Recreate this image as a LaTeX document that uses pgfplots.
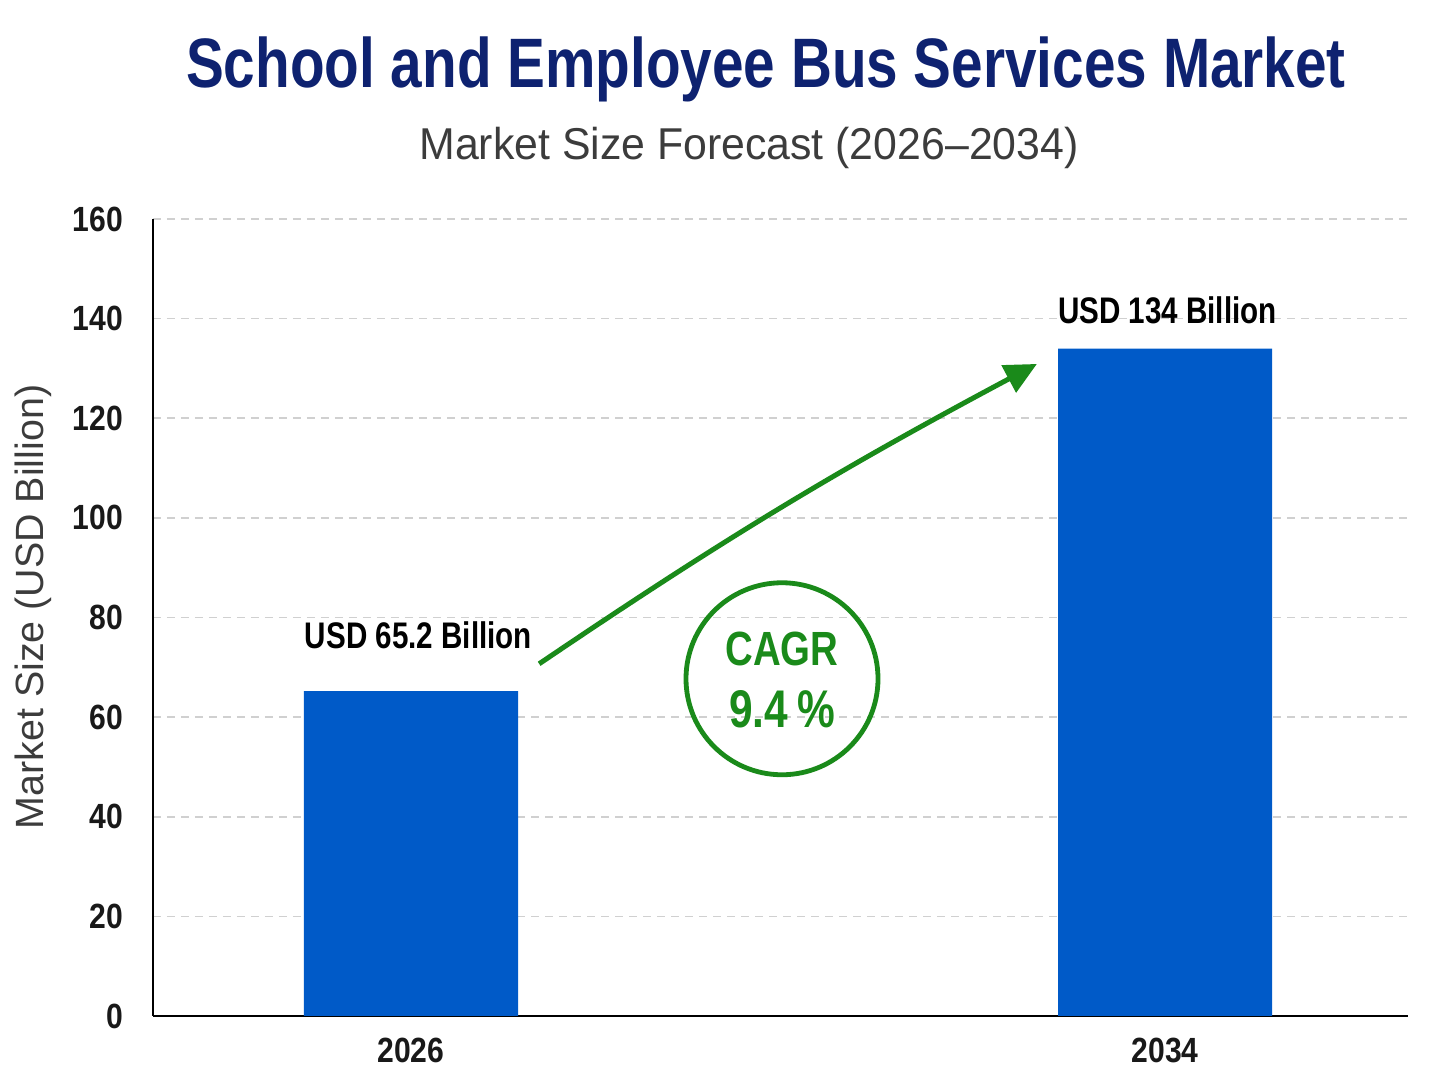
\documentclass[border=0pt]{standalone}
\usepackage{pgfplots}
\pgfplotsset{compat=1.18}
\usetikzlibrary{arrows.meta}
\usepackage{fontspec}
\setmainfont{Liberation Sans}
\newfontfamily\titlefont[FakeStretch=0.81]{Liberation Sans}
\newfontfamily\condfont[FakeStretch=0.80]{Liberation Sans}
\newfontfamily\tickfont[FakeStretch=0.86]{Liberation Sans}
\newfontfamily\subfont[FakeStretch=0.96]{Liberation Sans}

\definecolor{titlenavy}{RGB}{14,34,112}
\definecolor{barblue}{RGB}{0,90,200}
\definecolor{cagrgreen}{RGB}{26,138,26}
\definecolor{gridgray}{RGB}{208,208,208}
\definecolor{labelgray}{RGB}{60,60,60}

\begin{document}
\begin{tikzpicture}
% page frame (axis origin at the lower-left corner of the plot area)
\useasboundingbox (-76.5pt,-35pt) rectangle (647.5pt,508pt);

\begin{axis}[
  at={(0pt,0pt)}, anchor=south west,
  width=627.5pt, height=398.5pt, scale only axis,
  xmin=-0.342, xmax=1.322, ymin=0, ymax=160,
  axis x line*=bottom, axis y line*=left,
  axis line style={-, black, line width=1.3pt},
  ybar, bar width=0.284,
  xtick={0,1}, xticklabels={2026,2034},
  ytick={0,20,...,160},
  major tick length=0pt,
  ymajorgrids,
  grid style={gridgray, line width=0.8pt, dash pattern=on 4pt off 3pt},
  tick label style={font=\tickfont\bfseries\fontsize{17.5}{17.5}\selectfont, text=black!90},
  /pgf/number format/assume math mode=true,
  yticklabel style={xshift=-11.5pt},
  xticklabel style={yshift=-7.5pt},
  clip=false,
]
\addplot[fill=barblue, draw=none] coordinates {(0,65.2) (1,134)};

% value labels
\node[font=\condfont\bfseries\fontsize{18.5}{18.5}\selectfont] at (axis cs:0.01,76.5) {USD 65.2 Billion};
\node[font=\condfont\bfseries\fontsize{18.5}{18.5}\selectfont] at (axis cs:1.003,141.6) {USD 134 Billion};

% growth arrow
\draw[cagrgreen, line width=2.5pt, -{Triangle[length=16pt,width=15pt]}]
  (axis cs:0.170,70.7) to[bend left=3] (axis cs:0.830,130.9);

% CAGR badge
\draw[cagrgreen, line width=2.4pt] (axis cs:0.492,67.7) circle[radius=48pt];
\node[text=cagrgreen, font=\condfont\bfseries\fontsize{24}{24}\selectfont] at (axis cs:0.492,73.7) {CAGR};
\node[text=cagrgreen, font=\condfont\bfseries\fontsize{26.5}{26.5}\selectfont] at (axis cs:0.492,61.6) {9.4\,\%};
\end{axis}

% titles
\node[anchor=base, text=titlenavy, font=\titlefont\bfseries\fontsize{35}{35}\selectfont] at (306.5pt,464pt) {School and Employee Bus Services Market};
\node[anchor=base, text=labelgray, font=\subfont\fontsize{22.3}{22.3}\selectfont] at (298pt,428pt) {Market Size Forecast (2026–2034)};

% y-axis title
\node[rotate=90, text=labelgray, font=\fontsize{19.7}{19.7}\selectfont] at (-60pt,204.5pt) {Market Size (USD Billion)};
\end{tikzpicture}
\end{document}
